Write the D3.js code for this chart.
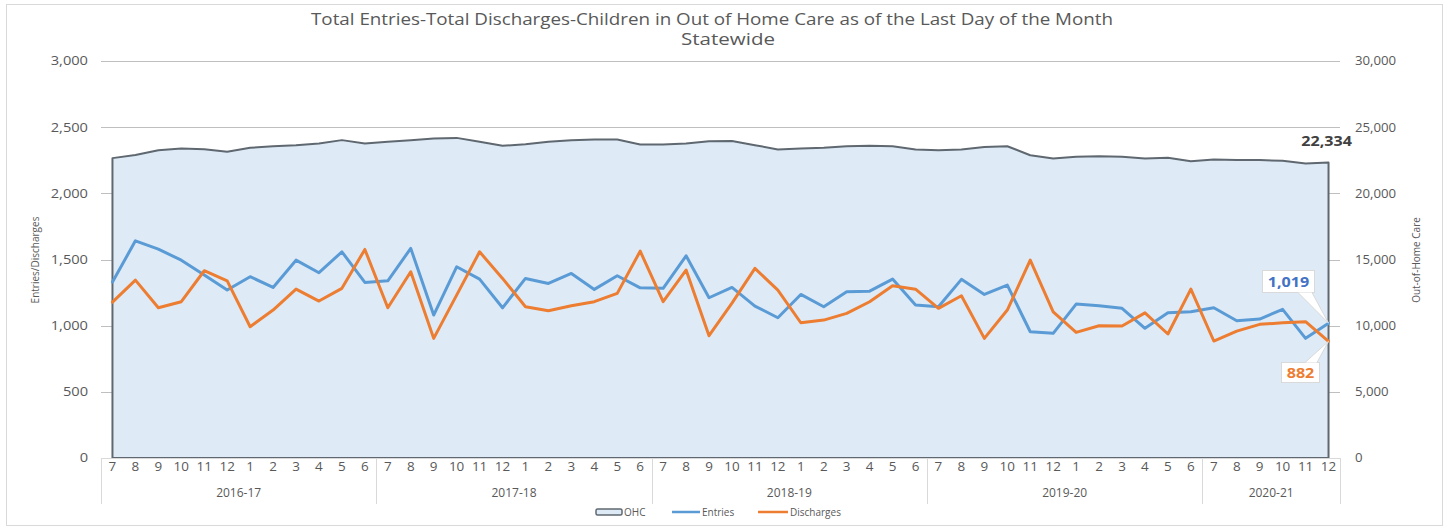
<!DOCTYPE html>
<html>
<head>
<meta charset="utf-8">
<script src="https://cdn.jsdelivr.net/npm/d3@7"></script>
<style>
  html, body { margin: 0; padding: 0; background: #ffffff; }
  svg { display: block; font-family: "Open Sans", "Noto Sans", sans-serif; }
</style>
</head>
<body>
<svg id="chart" width="1449" height="529"></svg>
<script>
// Month-of-year labels for each fiscal year (July through June)
const monthLabels = ["7","8","9","10","11","12","1","2","3","4","5","6"];
const fiscalYears = ["2016-17","2017-18","2018-19","2019-20","2020-21"];
const monthsPerYear = [12, 12, 12, 12, 6];

// Monthly entries into care
const entries = [1330,1641,1578,1495,1382,1269,1370,1289,1495,1400,1558,1327,
                 1339,1584,1080,1445,1352,1135,1357,1319,1395,1274,1377,1286,
                 1282,1528,1211,1289,1148,1060,1236,1143,1256,1261,1352,1156,
                 1143,1350,1236,1307,954,942,1163,1150,1131,980,1097,1105,
                 1135,1037,1050,1123,904,1019];

// Monthly discharges from care
const discharges = [1178,1344,1135,1181,1415,1339,992,1118,1276,1186,1282,1576,
                    1135,1407,904,1231,1558,1357,1143,1113,1150,1181,1244,1563,
                    1181,1420,924,1170,1433,1269,1022,1042,1093,1181,1302,1276,
                    1131,1226,904,1118,1495,1105,949,999,997,1097,937,1276,
                    884,959,1010,1022,1030,882];

// Children in out-of-home care on the last day of each month
const ohc = [22660,22890,23260,23390,23340,23140,23440,23560,23640,23770,24020,23770,
             23890,24020,24140,24190,23890,23590,23710,23890,24020,24070,24070,23690,
             23690,23770,23940,23960,23640,23320,23390,23440,23560,23590,23560,23320,
             23260,23320,23510,23560,22880,22640,22760,22810,22760,22640,22690,22430,
             22560,22510,22510,22460,22260,22334];

const leftTicks = [0, 500, 1000, 1500, 2000, 2500, 3000];
const rightTicks = [0, 5000, 10000, 15000, 20000, 25000, 30000];

// Build the month sequence with its fiscal-year group
const months = [];
fiscalYears.forEach((fy, g) => {
  for (let m = 0; m < monthsPerYear[g]; m++) {
    months.push({ label: monthLabels[m], fy: fy, group: g });
  }
});
const idx = d3.range(months.length);

const svg = d3.select("#chart");
const plotLeft = 101, plotRight = 1340, plotTop = 61, plotBottom = 458;
const textGray = "#595959";

const x = d3.scaleBand().domain(idx).range([plotLeft, plotRight]).paddingInner(0).paddingOuter(0);
const cx = i => x(i) + x.bandwidth() / 2;
const yL = d3.scaleLinear().domain([0, 3000]).range([plotBottom, plotTop]);
const yR = d3.scaleLinear().domain([0, 30000]).range([plotBottom, plotTop]);
const fmt = d3.format(",");

// Widen glyphs horizontally by a factor, keeping the anchor in place
function widen(sel, k) {
  sel.each(function () {
    const len = this.getComputedTextLength();
    d3.select(this).attr("textLength", len * k).attr("lengthAdjust", "spacingAndGlyphs");
  });
}

// Chart frame
svg.append("rect").attr("x", 6.5).attr("y", 4.5).attr("width", 1436).attr("height", 521)
  .attr("fill", "#fff").attr("stroke", "#d9d9d9").attr("stroke-width", 1);

// Title
svg.append("text").attr("x", 712).attr("y", 25).attr("text-anchor", "middle")
  .attr("fill", textGray).attr("font-size", 16)
  .attr("textLength", 802).attr("lengthAdjust", "spacingAndGlyphs")
  .text("Total Entries-Total Discharges-Children in Out of Home Care as of the Last Day of the Month");
svg.append("text").attr("x", 728).attr("y", 45).attr("text-anchor", "middle")
  .attr("fill", textGray).attr("font-size", 16)
  .attr("textLength", 94).attr("lengthAdjust", "spacingAndGlyphs")
  .text("Statewide");

// Horizontal gridlines (left scale)
svg.append("g").selectAll("line").data(leftTicks).join("line")
  .attr("x1", plotLeft).attr("x2", plotRight)
  .attr("y1", d => Math.round(yL(d)) + 0.5).attr("y2", d => Math.round(yL(d)) + 0.5)
  .attr("stroke", "#bfbfbf").attr("stroke-width", 1);

// OHC area on the secondary axis
const area = d3.area().x(i => cx(i)).y0(yR(0)).y1(i => yR(ohc[i]));
svg.append("path").datum(idx).attr("d", area)
  .attr("fill", "#deebf7").attr("stroke", "#5f6870").attr("stroke-width", 2)
  .attr("stroke-linejoin", "round");

// Entries and discharges lines
const line = arr => d3.line().x(i => cx(i)).y(i => yL(arr[i]));
svg.append("path").datum(idx).attr("d", line(entries))
  .attr("fill", "none").attr("stroke", "#5b9bd5").attr("stroke-width", 3)
  .attr("stroke-linejoin", "round").attr("stroke-linecap", "round");
svg.append("path").datum(idx).attr("d", line(discharges))
  .attr("fill", "none").attr("stroke", "#ed7d31").attr("stroke-width", 3)
  .attr("stroke-linejoin", "round").attr("stroke-linecap", "round");

// Left axis
const axL = d3.axisLeft(yL).tickValues(leftTicks).tickFormat(fmt).tickSize(0).tickPadding(13);
const gL = svg.append("g").attr("transform", `translate(${plotLeft},0)`).call(axL);
gL.select(".domain").remove();
gL.selectAll("text").attr("fill", textGray).attr("font-size", 12)
  .attr("font-family", "Open Sans, sans-serif").call(widen, 1.22);

// Right axis
const axR = d3.axisRight(yR).tickValues(rightTicks).tickFormat(fmt).tickSize(0).tickPadding(15);
const gR = svg.append("g").attr("transform", `translate(${plotRight},0)`).call(axR);
gR.select(".domain").remove();
gR.selectAll("text").attr("fill", textGray).attr("font-size", 12)
  .attr("font-family", "Open Sans, sans-serif").call(widen, 1.1);

// Axis titles
svg.append("text").attr("transform", "translate(39,260) rotate(-90)")
  .attr("text-anchor", "middle").attr("fill", textGray).attr("font-size", 10)
  .text("Entries/Discharges");
svg.append("text").attr("transform", "translate(1420,260) rotate(-90)")
  .attr("text-anchor", "middle").attr("fill", textGray).attr("font-size", 10)
  .text("Out-of-Home Care");

// Category axis: month labels
svg.append("line").attr("x1", plotLeft).attr("x2", plotRight)
  .attr("y1", plotBottom + 0.5).attr("y2", plotBottom + 0.5).attr("stroke", "#d9d9d9");
svg.append("g").selectAll("text").data(months).join("text")
  .attr("x", (d, i) => cx(i)).attr("y", 471).attr("text-anchor", "middle")
  .attr("fill", textGray).attr("font-size", 12).text(d => d.label)
  .call(widen, 1.12);

// Fiscal-year group labels and separators
let start = 0;
const groups = fiscalYears.map((fy, g) => {
  const s = start; start += monthsPerYear[g];
  return { fy, s, e: start };
});
const edge = i => (i === months.length ? plotRight : x(i));
svg.append("g").selectAll("line").data([0, ...groups.map(g => g.e)]).join("line")
  .attr("x1", d => Math.round(edge(d)) + 0.5).attr("x2", d => Math.round(edge(d)) + 0.5)
  .attr("y1", plotBottom).attr("y2", 504).attr("stroke", "#d9d9d9");
svg.append("g").selectAll("text").data(groups).join("text")
  .attr("x", d => (edge(d.e) + edge(d.s)) / 2)
  .attr("y", 497).attr("text-anchor", "middle").attr("fill", textGray).attr("font-size", 12)
  .text(d => d.fy);

// Data labels on the last month
const last = months.length - 1;
const px = cx(last);

svg.append("text").attr("x", 1352).attr("y", 146).attr("text-anchor", "end")
  .attr("fill", "#404040").attr("font-size", 14).attr("font-weight", "bold")
  .text(fmt(ohc[last])).call(widen, 1.15);

function callout(value, color, bx, by, bw, bh, tail) {
  const g = svg.append("g");
  g.append("rect").attr("x", bx + 0.5).attr("y", by + 0.5).attr("width", bw).attr("height", bh)
    .attr("fill", "#fff").attr("stroke", "#d9d9d9");
  g.append("path").attr("d", tail)
    .attr("fill", "#fff").attr("stroke", "#d9d9d9").attr("stroke-linejoin", "miter");
  g.append("text").attr("x", bx + bw / 2 + 0.5).attr("y", by + bh / 2 + 5.5)
    .attr("text-anchor", "middle").attr("fill", color).attr("font-size", 14)
    .attr("font-weight", "bold").text(fmt(value)).call(widen, 1.15);
}
const pe = yL(entries[last]);
const pd = yL(discharges[last]);
callout(entries[last], "#4472c4", 1262, 270, 52, 22,
  `M1298,${270 + 22.5} L${px},${pe} L1312,${270 + 22.5}`);
callout(discharges[last], "#ed7d31", 1281, 362, 38, 20,
  `M1305,362.5 L${px},${pd} L1317,362.5`);

// Legend
const lg = svg.append("g").attr("font-size", 10).attr("fill", textGray);
lg.append("rect").attr("x", 596).attr("y", 509).attr("width", 26).attr("height", 6).attr("rx", 1.5)
  .attr("fill", "#deebf7").attr("stroke", "#5f6870").attr("stroke-width", 1.5);
lg.append("text").attr("x", 624).attr("y", 516).text("OHC");
lg.append("line").attr("x1", 672).attr("x2", 700).attr("y1", 512).attr("y2", 512)
  .attr("stroke", "#5b9bd5").attr("stroke-width", 2.5);
lg.append("text").attr("x", 702).attr("y", 516).text("Entries");
lg.append("line").attr("x1", 758).attr("x2", 788).attr("y1", 512).attr("y2", 512)
  .attr("stroke", "#ed7d31").attr("stroke-width", 2.5);
lg.append("text").attr("x", 790).attr("y", 516).text("Discharges");
</script>
</body>
</html>
